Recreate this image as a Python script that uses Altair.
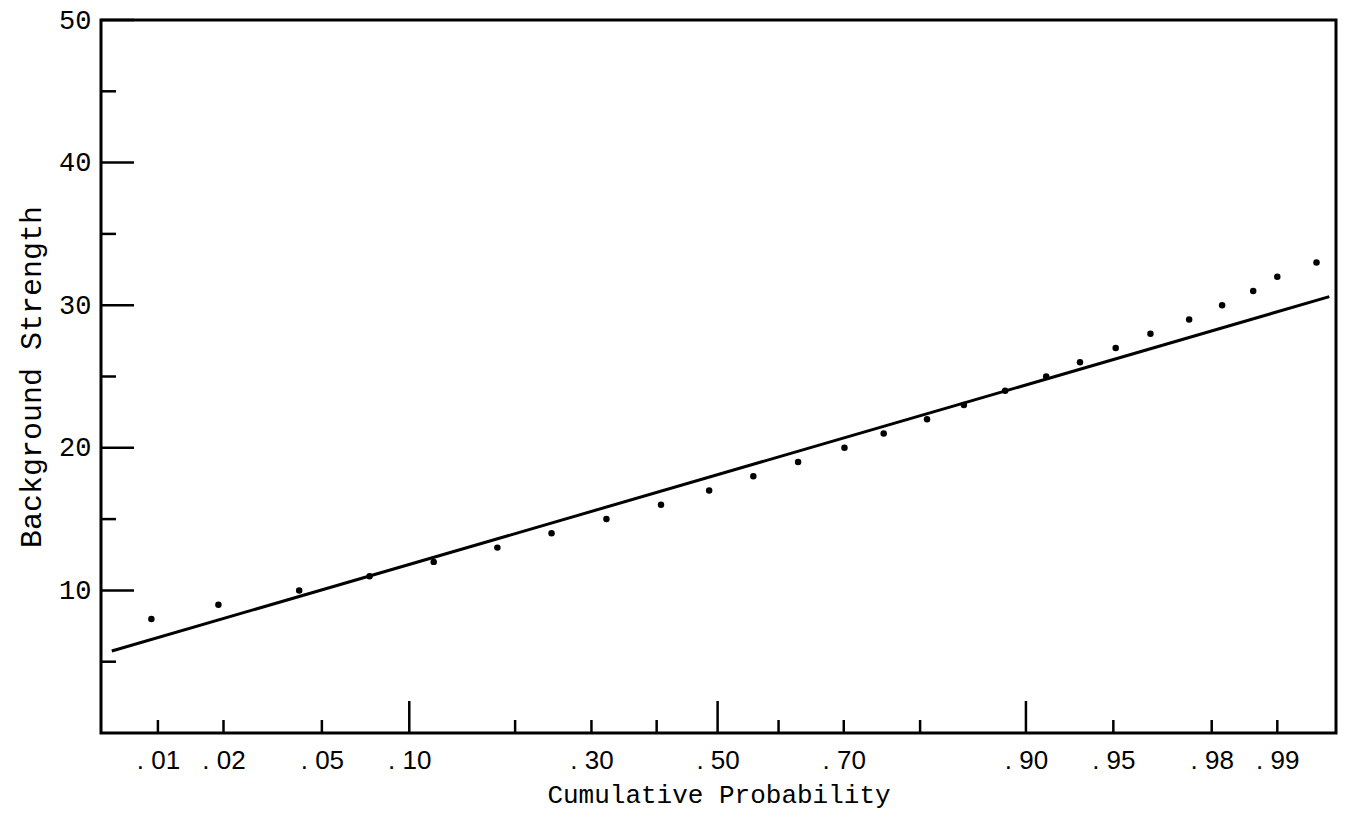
import altair as alt
import pandas as pd
from statistics import NormalDist

nd = NormalDist()

strength = [8, 9, 10, 11, 12, 13, 14, 15, 16, 17, 18, 19, 20,
            21, 22, 23, 24, 25, 26, 27, 28, 29, 30, 31, 32, 33]
cum_prob = [0.0093, 0.019, 0.041, 0.074, 0.119, 0.180, 0.245, 0.322, 0.407,
            0.486, 0.559, 0.631, 0.701, 0.755, 0.808, 0.847, 0.884, 0.914,
            0.934, 0.951, 0.964, 0.975, 0.982, 0.987, 0.990, 0.9936]

# Fitted straight line (end points)
fit_prob = [0.0059, 0.9945]
fit_strength = [5.75, 30.6]

# Axis ticks
x_label_probs = [0.01, 0.02, 0.05, 0.10, 0.30, 0.50, 0.70, 0.90, 0.95, 0.98, 0.99]
x_tick_short = [0.01, 0.02, 0.05, 0.20, 0.30, 0.40, 0.60, 0.70, 0.80, 0.95, 0.98, 0.99]
x_tick_long = [0.10, 0.50, 0.90]
y_major = [10, 20, 30, 40, 50]
y_minor = [5, 15, 25, 35, 45]
x_domain_prob = [0.00519, 0.99492]

W, H = 1235, 713

def z(p):
    return nd.inv_cdf(p)

pts = pd.DataFrame({"z": [z(p) for p in cum_prob], "strength": strength})
fit = pd.DataFrame({"z": [z(p) for p in fit_prob], "strength": fit_strength})
xs_short = pd.DataFrame({"z": [z(p) for p in x_tick_short]})
xs_long = pd.DataFrame({"z": [z(p) for p in x_tick_long]})
ys_major = pd.DataFrame({"strength": y_major})
ys_minor = pd.DataFrame({"strength": y_minor})

x_axis = alt.Axis(
    values=[z(p) for p in x_label_probs],
    labelExpr="'. ' + format(round(cumulativeNormal(datum.value) * 100), '02d')",
    ticks=False, domain=False, grid=False,
    labelFont="Liberation Sans", labelFontSize=26, labelColor="black",
    labelPadding=14, labelFlush=False, labelOverlap=False,
    title="Cumulative Probability", titleFont="Liberation Mono",
    titleFontSize=26, titleFontWeight="normal", titleColor="black",
    titlePadding=8,
)
y_axis = alt.Axis(
    values=y_major, ticks=False, domain=False, grid=False,
    labelFont="Liberation Mono", labelFontSize=27, labelColor="black",
    labelPadding=10, labelFlush=False,
    title="Background Strength", titleFont="Liberation Mono",
    titleFontSize=30, titleFontWeight="normal", titleColor="black",
    titlePadding=12,
)

xenc = alt.X("z:Q", scale=alt.Scale(domain=[z(x_domain_prob[0]), z(x_domain_prob[1])],
                                    nice=False, zero=False), axis=x_axis)
yenc = alt.Y("strength:Q", scale=alt.Scale(domain=[0, 50], nice=False, zero=False),
             axis=y_axis)

points = alt.Chart(pts).mark_circle(size=42, color="black", opacity=1).encode(x=xenc, y=yenc)
line = alt.Chart(fit).mark_line(color="black", strokeWidth=3).encode(x=xenc, y=yenc)

xt_short = alt.Chart(xs_short).mark_rule(color="black", strokeWidth=2.5).encode(
    x=xenc, y=alt.value(H), y2=alt.value(H - 13))
xt_long = alt.Chart(xs_long).mark_rule(color="black", strokeWidth=2.5).encode(
    x=xenc, y=alt.value(H), y2=alt.value(H - 32))
yt_major = alt.Chart(ys_major).mark_rule(color="black", strokeWidth=2.5).encode(
    y=yenc, x=alt.value(0), x2=alt.value(33))
yt_minor = alt.Chart(ys_minor).mark_rule(color="black", strokeWidth=2.5).encode(
    y=yenc, x=alt.value(0), x2=alt.value(15))

chart = alt.layer(line, points, xt_short, xt_long, yt_major, yt_minor).properties(
    width=W, height=H,
    autosize=alt.AutoSizeParams(type="none"),
    padding={"left": 101, "top": 20, "right": 17, "bottom": 104},
    background="white",
).configure_view(stroke="black", strokeWidth=3)

chart.save("out.html", embed_options={"renderer": "svg", "actions": False})
